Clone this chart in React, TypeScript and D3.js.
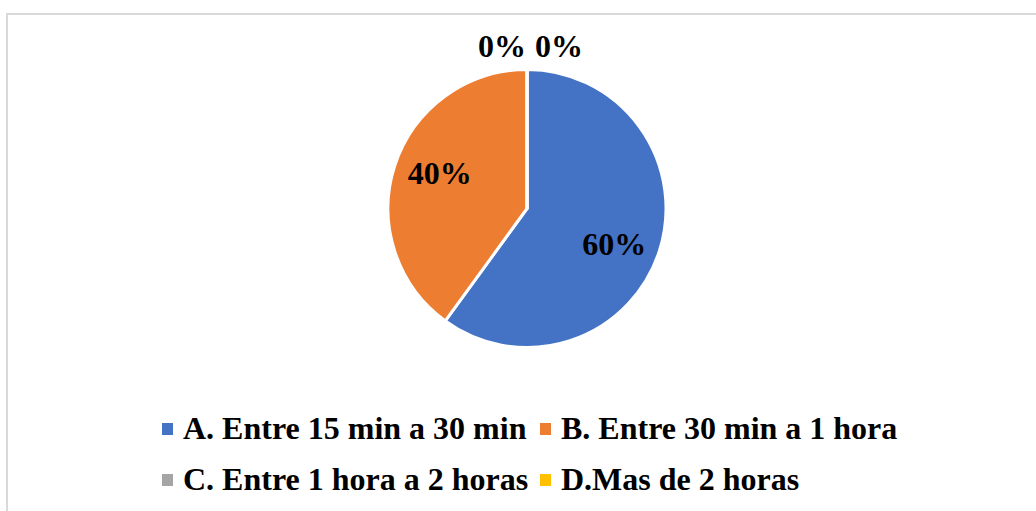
import React from "react";
import * as d3 from "d3";

const categories = [
  "A. Entre 15 min a 30 min",
  "B. Entre 30 min a 1 hora",
  "C. Entre 1 hora a 2 horas",
  "D.Mas de 2 horas",
];
const shares = [60, 40, 0, 0];
const colors = ["#4472C4", "#ED7D31", "#A5A5A5", "#FFC000"];

const W = 1036;
const H = 511;
const cx = 527;
const cy = 208.5;
const radius = 139;
const labelRadius = 94;
const labelTurn = (4 * Math.PI) / 180;
const FONT = "'Liberation Serif', 'Times New Roman', serif";
const FS = 32;

export default function App() {
  const pie = d3
    .pie<number>()
    .value((d) => d)
    .sort(null);
  const arcs = pie(shares);
  const arcGen = d3
    .arc<d3.PieArcDatum<number>>()
    .innerRadius(0)
    .outerRadius(radius);

  // returns [centre x, baseline y] relative to the pie centre
  const labelPos = (a: d3.PieArcDatum<number>, i: number) => {
    const mid = (a.startAngle + a.endAngle) / 2;
    if (a.value === 0) {
      // zero slices sit at the top; put their labels outside, side by side
      const r = radius + 24;
      const side = i === 2 ? -1 : 1;
      return [Math.sin(mid) * r + 3.5 + side * 28.5, -Math.cos(mid) * r + 11];
    }
    const ang = mid + labelTurn;
    return [Math.sin(ang) * labelRadius, -Math.cos(ang) * labelRadius + 11];
  };

  const legendCols = [162, 540];
  const legendRows = [439, 490];

  return (
    <div style={{ position: "absolute", left: 0, top: 0 }}>
      <svg width={W} height={H} style={{ display: "block", background: "#fff" }}>
        <rect x={7} y={14} width={W} height={H} fill="#fff" stroke="#d9d9d9" strokeWidth={2} />
        <g transform={`translate(${cx},${cy})`}>
          {arcs.map((a, i) => (
            <path key={i} d={arcGen(a) || ""} fill={colors[i]} stroke="#fff" strokeWidth={3} strokeLinejoin="round" />
          ))}
          {arcs.map((a, i) => {
            const [x, y] = labelPos(a, i);
            return (
              <text
                key={"l" + i}
                x={x}
                y={y}
                textAnchor="middle"
                fontFamily={FONT}
                fontWeight="bold"
                fontSize={FS}
                fill="#000"
              >
                {`${a.value}%`}
              </text>
            );
          })}
        </g>
        {categories.map((c, i) => {
          const x = legendCols[i % 2];
          const y = legendRows[Math.floor(i / 2)];
          return (
            <g key={"g" + i} transform={`translate(${x},${y})`}>
              <rect x={0} y={-16} width={11} height={12} fill={colors[i]} />
              <text x={21} y={0} fontFamily={FONT} fontWeight="bold" fontSize={FS} fill="#000">
                {c}
              </text>
            </g>
          );
        })}
      </svg>
    </div>
  );
}
